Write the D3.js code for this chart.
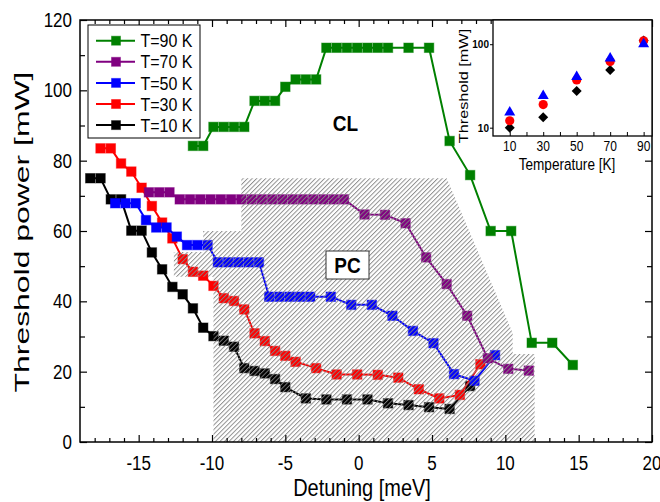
<!DOCTYPE html>
<html>
<head>
<meta charset="utf-8">
<script src="https://cdn.jsdelivr.net/npm/d3@7"></script>
<style>
  body { margin: 0; background: #fff; }
  svg { display: block; font-family: "Liberation Sans", Arial, sans-serif; }
</style>
</head>
<body>
<svg id="chart" width="660" height="502"></svg>
<script>
// detuning [meV] and threshold [mW] for each temperature
const det10 = [-18.3,-17.6,-16.9,-16.2,-15.5,-14.8,-14.1,-13.4,-12.7,-12.0,-11.3,-10.6,-9.9,-9.2,-8.5,-7.8,-7.1,-6.4,-5.7,-5.0,-3.6,-2.2,-0.8,0.6,2.0,3.4,4.8,6.2,7.6];
const thr10 = [75.0,75.0,69.0,69.0,60.1,60.1,53.9,49.1,44.1,42.0,38.0,32.5,30.1,28.8,27.1,21.0,20.2,19.5,17.9,15.6,12.4,12.1,12.1,12.1,11.0,10.5,9.9,9.4,15.9];

const det30 = [-17.6,-16.9,-16.2,-15.5,-14.8,-14.1,-13.4,-12.7,-12.0,-11.3,-10.6,-9.9,-9.2,-8.5,-7.8,-7.1,-6.4,-5.7,-5.0,-4.3,-2.9,-1.5,-0.1,1.3,2.7,4.1,5.5,6.9,8.3];
const thr30 = [83.5,83.5,79.2,76.9,72.3,67.1,62.4,57.9,52.0,48.4,47.3,44.4,40.9,40.1,37.7,30.9,28.7,25.9,24.5,22.8,21.0,19.2,19.2,19.1,18.3,15.0,12.4,13.4,22.1];

const det50 = [-16.6,-15.9,-15.2,-14.5,-13.8,-13.1,-12.4,-11.7,-11.0,-10.3,-9.6,-8.9,-8.2,-7.5,-6.8,-6.1,-5.4,-4.7,-4.0,-3.3,-1.9,-0.5,0.9,2.3,3.7,5.1,6.5,7.9,9.3];
const thr50 = [67.9,67.9,67.9,63.1,61.0,61.0,58.4,56.0,56.0,56.0,51.1,51.1,51.1,51.1,51.1,41.3,41.3,41.3,41.3,41.3,41.3,39.0,39.0,35.9,31.6,28.1,19.3,17.4,24.7];

const det70 = [-14.3,-13.6,-12.9,-12.2,-11.5,-10.8,-10.1,-9.4,-8.7,-8.0,-7.3,-6.6,-5.9,-5.2,-4.5,-3.8,-3.1,-2.4,-1.7,-1.0,0.4,1.8,3.2,4.6,6.0,7.4,8.8,10.2,11.6];
const thr70 = [71.0,71.0,71.0,69.0,69.0,69.0,69.0,69.0,69.0,69.0,69.0,69.0,69.0,69.0,69.0,69.0,69.0,69.0,69.0,69.0,64.7,64.6,62.2,52.5,44.9,35.9,23.8,20.8,20.3];

const det90 = [-11.3,-10.6,-9.9,-9.2,-8.5,-7.8,-7.1,-6.4,-5.7,-5.0,-4.3,-3.6,-2.9,-2.2,-1.5,-0.8,-0.1,0.6,1.3,2.0,3.4,4.8,6.2,7.6,9.0,10.4,11.8,13.2,14.6];
const thr90 = [84.2,84.2,89.6,89.6,89.6,89.6,97.0,97.0,97.0,101.0,103.1,103.1,103.1,112.1,112.1,112.1,112.1,112.1,112.1,112.1,112.1,112.1,85.6,75.9,60.0,60.0,28.2,28.2,21.9];

const seriesNames = ["T=90 K", "T=70 K", "T=50 K", "T=30 K", "T=10 K"];
const seriesColors = ["#008000", "#800080", "#0000ff", "#ff0000", "#000000"];

// photonic crystal (hatched) region outline
const pcX = [-8, 6.0, 10.5, 10.5, 12, 12, -9.9, -9.9, -12.6, -12.6, -10.6, -10.6, -8];
const pcY = [75, 75, 31, 25, 25, 0, 0, 47, 47, 54, 54, 60, 60];

// inset: minimum threshold vs temperature
const insetTemp = [10, 30, 50, 70, 90];
const insetDiamond = [10.0, 13.3, 27.6, 49.2, 111];
const insetCircle = [12.1, 18.9, 37.3, 62.0, 110];
const insetTriangle = [15.6, 24.7, 41.7, 69.2, 102.6];

const xMajor = [-15, -10, -5, 0, 5, 10, 15, 20];
const yMajor = [0, 20, 40, 60, 80, 100, 120];

const stretch = 1.17; // glyphs in the picture are taller than wide

const svg = d3.select("#chart");
const mLeft = 80, mRight = 652, mTop = 20, mBottom = 442;

const x = d3.scaleLinear().domain([-19, 20]).range([mLeft, mRight]);
const y = d3.scaleLinear().domain([0, 120]).range([mBottom, mTop]);

function addText(parent, px, py, s, size, o = {}) {
  const k = o.k || stretch;
  return parent.append("text")
    .attr("transform", `translate(${px},${py}) scale(1,${k})` + (o.rotate ? " rotate(-90)" : ""))
    .attr("text-anchor", o.anchor || "middle")
    .attr("font-size", size)
    .attr("font-weight", o.bold ? "bold" : null)
    .text(s);
}

// hatch pattern
const defs = svg.append("defs");
defs.append("pattern")
  .attr("id", "hatch")
  .attr("patternUnits", "userSpaceOnUse")
  .attr("width", 3.2)
  .attr("height", 3.2)
  .attr("patternTransform", "rotate(45)")
  .append("line")
  .attr("x1", 0.5).attr("y1", 0).attr("x2", 0.5).attr("y2", 3.2)
  .attr("stroke", "#858585")
  .attr("stroke-width", 0.9);

// data series, 10 K first so 90 K ends on top
const series = seriesNames.map((n, i) => ({ name: n, color: seriesColors[i] }));
series[0].x = det90; series[0].y = thr90;
series[1].x = det70; series[1].y = thr70;
series[2].x = det50; series[2].y = thr50;
series[3].x = det30; series[3].y = thr30;
series[4].x = det10; series[4].y = thr10;

const line = d3.line().x(d => x(d[0])).y(d => y(d[1]));
const ms = 9.5;

series.slice().reverse().forEach(s => {
  const pts = s.x.map((v, i) => [v, s.y[i]]);
  svg.append("path")
    .attr("d", line(pts))
    .attr("fill", "none")
    .attr("stroke", s.color)
    .attr("stroke-width", 2);
  svg.append("g").selectAll("rect")
    .data(pts).enter().append("rect")
    .attr("x", d => x(d[0]) - ms / 2)
    .attr("y", d => y(d[1]) - ms / 2)
    .attr("width", ms).attr("height", ms)
    .attr("fill", s.color)
    .attr("stroke", s.color)
    .attr("stroke-opacity", 0.45)
    .attr("stroke-width", 1);
});

// hatched region drawn over the data
const pcPts = pcX.map((v, i) => [x(v), y(pcY[i])]);
svg.append("path")
  .attr("d", "M" + pcPts.join("L") + "Z")
  .attr("fill", "url(#hatch)");

// PC and CL labels
svg.append("rect")
  .attr("x", 326).attr("y", 251).attr("width", 43).attr("height", 28)
  .attr("fill", "#fff").attr("stroke", "#333").attr("stroke-width", 1);
addText(svg, 347.5, 273, "PC", 19, { bold: true });
addText(svg, 345.5, 131, "CL", 19, { bold: true });

// main frame and ticks
svg.append("rect")
  .attr("x", mLeft).attr("y", mTop).attr("width", mRight - mLeft).attr("height", mBottom - mTop)
  .attr("fill", "none").attr("stroke", "#000").attr("stroke-width", 1.5);

const xMinor = d3.range(-18, 20).filter(v => v % 5 !== 0);
const yMinor = d3.range(10, 120, 20);

function ticks(axis, pos, values, size) {
  const g = svg.append("g").attr("transform", pos)
    .call(axis.tickValues(values).tickSize(size).tickFormat(""));
  g.select(".domain").remove();
  g.selectAll("line").attr("stroke-width", 1.2);
}
ticks(d3.axisBottom(x), `translate(0,${mBottom})`, xMajor, -7);
ticks(d3.axisBottom(x), `translate(0,${mBottom})`, xMinor, -4);
ticks(d3.axisTop(x), `translate(0,${mTop})`, xMajor, -7);
ticks(d3.axisTop(x), `translate(0,${mTop})`, xMinor, -4);
ticks(d3.axisLeft(y), `translate(${mLeft},0)`, yMajor, -7);
ticks(d3.axisLeft(y), `translate(${mLeft},0)`, yMinor, -5);
ticks(d3.axisRight(y), `translate(${mRight},0)`, yMajor, -7);
ticks(d3.axisRight(y), `translate(${mRight},0)`, yMinor, -5);

xMajor.forEach(v => addText(svg, x(v), 470, String(v), 17));
yMajor.forEach(v => addText(svg, 72, y(v) + 7, String(v), 17, { anchor: "end" }));

addText(svg, 362, 496, "Detuning [meV]", 20);
addText(svg, 29, 232, "Threshold power [mW]", 21, { rotate: true, k: 1.52 });

// legend
const lg = svg.append("g");
lg.append("rect")
  .attr("x", 88).attr("y", 25).attr("width", 112).attr("height", 113)
  .attr("fill", "#fff").attr("stroke", "#000").attr("stroke-width", 1);
series.forEach((s, i) => {
  const cy = 40.7 + i * 21.1;
  lg.append("line").attr("x1", 96).attr("x2", 135).attr("y1", cy).attr("y2", cy)
    .attr("stroke", s.color).attr("stroke-width", 2);
  lg.append("rect").attr("x", 116 - 4.5).attr("y", cy - 4.5).attr("width", 9).attr("height", 9)
    .attr("fill", s.color).attr("stroke", s.color).attr("stroke-opacity", 0.45);
  addText(lg, 140.5, cy + 6.6, s.name, 16, { anchor: "start" });
});

// inset
const ix = d3.scaleLinear().domain([0, 95]).range([493, mRight]);
const iy = d3.scaleLog().domain([7.95, 195]).range([136, mTop]);
const ins = svg.append("g");
ins.append("rect")
  .attr("x", 493).attr("y", mTop).attr("width", mRight - 493).attr("height", 136 - mTop)
  .attr("fill", "#fff").attr("stroke", "#000").attr("stroke-width", 1.3);

const ixt = ins.append("g").attr("transform", "translate(0,136)")
  .call(d3.axisBottom(ix).tickValues(d3.range(10, 100, 10)).tickSize(-4).tickFormat(""));
ixt.select(".domain").remove();
const iyt = ins.append("g").attr("transform", "translate(493,0)")
  .call(d3.axisLeft(iy).tickValues([10, 100]).tickSize(3).tickFormat(""));
iyt.select(".domain").remove();

insetTemp.forEach(t => addText(ins, ix(t), 151, String(t), 12));
[10, 100].forEach(v => addText(ins, 489, iy(v) + 4, String(v), 10, { anchor: "end", bold: true }));
addText(ins, 567, 170, "Temperature [K]", 13.6);
addText(ins, 468, 86, "Threshold [mW]", 13.5, { rotate: true, k: 1.2 });

ins.selectAll(".dia").data(insetTemp).enter().append("path")
  .attr("d", (t, i) => {
    const cx = ix(t), cy = iy(insetDiamond[i]), r = 5;
    return `M${cx},${cy - r}L${cx + r},${cy}L${cx},${cy + r}L${cx - r},${cy}Z`;
  })
  .attr("fill", "#000");
ins.selectAll(".circ").data(insetTemp).enter().append("circle")
  .attr("cx", t => ix(t))
  .attr("cy", (t, i) => iy(insetCircle[i]))
  .attr("r", 4.6)
  .attr("fill", "#ff0000");
ins.selectAll(".tri").data(insetTemp).enter().append("path")
  .attr("d", (t, i) => {
    const cx = ix(t), cy = iy(insetTriangle[i]);
    return `M${cx},${cy - 5.5}L${cx + 5.5},${cy + 4}L${cx - 5.5},${cy + 4}Z`;
  })
  .attr("fill", "#0000ff");
</script>
</body>
</html>
